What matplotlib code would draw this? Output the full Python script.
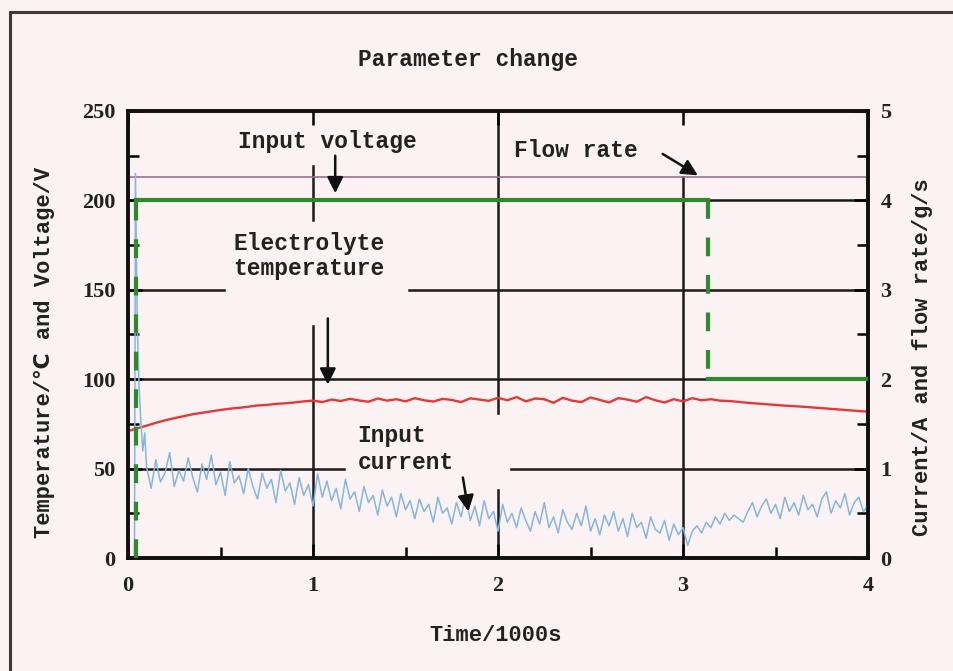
import numpy as np
import matplotlib.pyplot as plt
from matplotlib.patches import Rectangle

# electrolyte temperature (C), sampled every 50 s from 0 to 4000 s
temp_time = np.linspace(0, 4.0, 81)
temperature = [71.0, 72.5, 74.0, 75.6, 77.0, 78.2, 79.3, 80.4, 81.2, 82.0,
               82.8, 83.5, 84.0, 84.6, 85.3, 85.6, 86.2, 86.5, 87.0, 87.6,
               88.0, 87.2, 88.6, 87.8, 89.0, 88.1, 87.4, 89.2, 88.0, 88.8,
               87.6, 89.4, 88.2, 87.5, 89.0, 88.4, 87.2, 89.3, 88.6, 87.9,
               89.6, 88.2, 90.0, 87.6, 89.2, 88.8, 86.8, 89.6, 88.0, 87.2,
               89.8, 88.4, 87.0, 89.4, 88.6, 87.4, 90.0, 88.2, 87.0, 88.8,
               87.6, 89.4, 88.2, 88.8, 88.0, 87.8, 87.3, 86.8, 86.4, 86.0,
               85.6, 85.2, 84.9, 84.6, 84.2, 83.8, 83.4, 83.0, 82.6, 82.2,
               81.8]

# input voltage (V)
volt_time = [0.0, 4.0]
voltage = [213, 213]

# input current (A): start-up spike, then every 25 s from 100 s to 4000 s
start_time = [0.035, 0.040, 0.050, 0.060, 0.070, 0.080, 0.090]
start_current = [0.0, 4.3, 2.6, 1.9, 1.5, 1.2, 1.4]
run_time = np.linspace(0.1, 4.0, 157)
run_current = [1.02, 0.78, 1.10, 0.85, 0.95, 1.18, 0.80, 0.98, 0.86, 1.12,
               0.90, 0.74, 1.05, 0.88, 1.15, 0.82, 0.96, 0.70, 1.08, 0.84,
               0.92, 0.72, 1.00, 0.80, 0.66, 0.95, 0.78, 0.88, 0.62, 0.98,
               0.75, 0.84, 0.60, 0.90, 0.70, 0.82, 0.58, 0.94, 0.68, 0.86,
               0.64, 0.78, 0.55, 0.88, 0.66, 0.74, 0.52, 0.80, 0.62, 0.70,
               0.48, 0.76, 0.58, 0.68, 0.46, 0.72, 0.54, 0.64, 0.44, 0.66,
               0.52, 0.60, 0.40, 0.68, 0.50, 0.56, 0.38, 0.62, 0.46, 0.70,
               0.42, 0.58, 0.36, 0.64, 0.44, 0.52, 0.30, 0.60, 0.40, 0.50,
               0.34, 0.56, 0.42, 0.30, 0.52, 0.38, 0.62, 0.34, 0.46, 0.28,
               0.54, 0.40, 0.32, 0.50, 0.36, 0.58, 0.30, 0.44, 0.26, 0.48,
               0.36, 0.52, 0.30, 0.44, 0.24, 0.50, 0.34, 0.40, 0.22, 0.46,
               0.32, 0.28, 0.42, 0.20, 0.38, 0.26, 0.34, 0.14, 0.30, 0.36,
               0.28, 0.40, 0.34, 0.46, 0.38, 0.50, 0.42, 0.48, 0.44, 0.40,
               0.52, 0.62, 0.46, 0.58, 0.66, 0.50, 0.60, 0.44, 0.68, 0.52,
               0.62, 0.48, 0.70, 0.54, 0.60, 0.46, 0.66, 0.74, 0.50, 0.64,
               0.56, 0.72, 0.48, 0.62, 0.68, 0.52, 0.58]

# flow rate (g/s)
flow_time = [0.045, 0.045, 3.135, 3.135, 4.0]
flow_rate = [0, 4, 4, 2, 2]

bg = '#fbf2f3'
word_font = ['Liberation Mono', 'DejaVu Sans']
num_font = 'Liberation Serif'

fig = plt.figure(figsize=(9.54, 6.71), dpi=100, facecolor=bg)
ax = fig.add_axes([0.1342, 0.1684, 0.7757, 0.6662])
ax.set_facecolor(bg)
ax2 = ax.twinx()

ax.set_xlim(0, 4)
ax.set_ylim(0, 250)
ax2.set_ylim(0, 5)

# broken grid lines, leaving room for the labels
grid_h = [(200, 0, 4), (150, 0, 0.52), (150, 1.52, 4), (100, 0, 4),
          (50, 0, 1.17), (50, 2.07, 4)]
grid_v = [(1, 0, 130), (1, 189, 219), (2, 0, 38), (2, 81, 250), (3, 0, 213)]
for y, x0, x1 in grid_h:
    ax.plot([x0, x1], [y, y], color='#1a1a1a', lw=1.8, zorder=1)
for x, y0, y1 in grid_v:
    ax.plot([x, x], [y0, y1], color='#1a1a1a', lw=1.8, zorder=1)

ax.plot(volt_time, voltage, color='#9b6f8c', lw=1.2, zorder=2)
ax.plot(temp_time, temperature, color='#e23a3a', lw=1.7, zorder=3)

ax2.plot(np.concatenate([start_time, run_time]), start_current + run_current,
         color='#86b6dc', lw=1.1, zorder=2)

# flow rate: plateaus solid, jumps dashed
for i in range(len(flow_time) - 1):
    xs = flow_time[i:i + 2]
    ys = flow_rate[i:i + 2]
    if xs[0] == xs[1]:
        ax2.plot(xs, ys, color='#2f8a2f', lw=3, dashes=(4.5, 4.5), zorder=3)
    else:
        ax2.plot(xs, ys, color='#2f8a2f', lw=3, zorder=3)

# ticks
for a in (ax, ax2):
    for s in a.spines.values():
        s.set_linewidth(2.6)
        s.set_color('#111111')
ax.set_xticks([0, 1, 2, 3, 4])
ax.set_xticks([0.5, 1.5, 2.5, 3.5], minor=True)
ax.set_yticks([0, 50, 100, 150, 200, 250])
ax.set_yticks([25, 75, 125, 175, 225], minor=True)
ax2.set_yticks([0, 1, 2, 3, 4, 5])
ax2.set_yticks([0.5, 1.5, 2.5, 3.5, 4.5], minor=True)
ax.tick_params(axis='x', which='both', direction='in', top=True, width=1.8,
               labelsize=16, pad=13)
ax.tick_params(axis='x', which='major', length=10)
ax.tick_params(axis='x', which='minor', length=8, top=False)
ax.tick_params(axis='y', which='both', direction='in', width=1.8,
               labelsize=16, pad=9)
ax.tick_params(axis='y', which='major', length=10)
ax.tick_params(axis='y', which='minor', length=8)
ax2.tick_params(axis='y', which='both', direction='in', width=1.8,
                labelsize=16, pad=9)
ax2.tick_params(axis='y', which='major', length=10)
ax2.tick_params(axis='y', which='minor', length=8)
for lab in ax.get_xticklabels() + ax.get_yticklabels() + ax2.get_yticklabels():
    lab.set_fontfamily(num_font)
    lab.set_fontweight('bold')
    lab.set_color('#222222')

# labels
tkw = dict(family=word_font, fontweight='bold', fontsize=16.5, color='#222222')
lkw = dict(tkw, fontsize=15.8)
fig.text(0.4906, 0.9106, 'Parameter change', ha='center', va='center', **tkw)
fig.text(0.519, 0.053, 'Time/1000s', ha='center', va='center', **lkw)
fig.text(0.047, 0.475, 'Temperature/\u2103 and Voltage/V', rotation=90,
         ha='center', va='center', **lkw)
fig.text(0.9675, 0.468, 'Current/A and flow rate/g/s', rotation=90,
         ha='center', va='center', **lkw)

ax2.text(1.08, 233, 'Input voltage', transform=ax.transData,
         ha='center', va='center', zorder=5, **tkw)
ax2.text(0.98, 169, 'Electrolyte\ntemperature', transform=ax.transData,
         ha='center', va='center', linespacing=1.12, zorder=5, **tkw)
ax2.text(2.42, 228, 'Flow rate', transform=ax.transData,
         ha='center', va='center', zorder=5, **tkw)
ax2.text(1.24, 61, 'Input\ncurrent', transform=ax.transData,
         ha='left', va='center', linespacing=1.18, zorder=5, **tkw)

arrows = [((1.12, 225), (1.12, 204)), ((1.08, 134), (1.08, 97)),
          ((2.89, 226), (3.08, 214)), ((1.81, 45), (1.84, 26))]
for tail, head in arrows:
    ax2.annotate('', xy=head, xytext=tail, xycoords=ax.transData,
                 textcoords=ax.transData, zorder=6,
                 arrowprops=dict(arrowstyle='-|>', color='#111111', lw=1.8,
                                 mutation_scale=24, shrinkA=0, shrinkB=0))

# outer frame of the figure
fig.add_artist(Rectangle((0.0105, -0.05), 1.1, 1.0321, transform=fig.transFigure,
                         fill=False, edgecolor='#3a3a3a', lw=2.2))

fig.savefig('out.png', dpi=100, facecolor=bg)
